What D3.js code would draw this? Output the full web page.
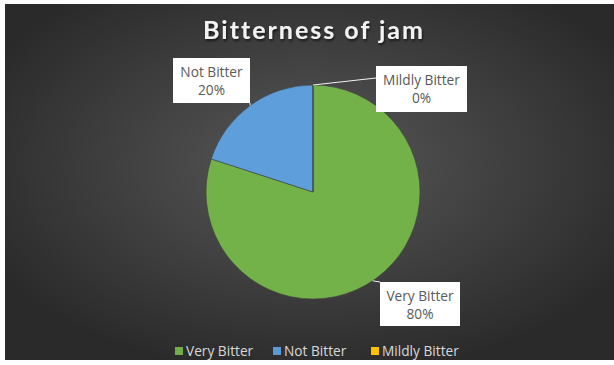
<!DOCTYPE html>
<html><head><meta charset="utf-8">
<script src="https://cdn.jsdelivr.net/npm/d3@7"></script>
<style>html,body{margin:0;padding:0;background:#fff;}svg{display:block;}</style>
</head><body>
<svg id="chart" width="614" height="365"></svg>
<script>
const categories = ["Very Bitter", "Not Bitter", "Mildly Bitter"];
const values = [80, 20, 0];
const labelTexts = ["80%", "20%", "0%"];
const colors = ["#70ad47", "#5b9bd5", "#ffc000"];
const title = "Bitterness of jam";

const W = 614, H = 365;
const svg = d3.select("#chart");
const defs = svg.append("defs");

const bg = defs.append("radialGradient").attr("id", "bg")
  .attr("cx", "50%").attr("cy", "45%").attr("r", "60%");
bg.append("stop").attr("offset", "0%").attr("stop-color", "#585858");
bg.append("stop").attr("offset", "100%").attr("stop-color", "#2a2a2a");

const sh = defs.append("filter").attr("id", "tshadow").attr("x", "-10%").attr("y", "-20%").attr("width", "120%").attr("height", "150%");
sh.append("feDropShadow").attr("dx", 1).attr("dy", 2).attr("stdDeviation", 1.2).attr("flood-color", "#000").attr("flood-opacity", 0.6);

colors.forEach((c, i) => {
  const g = defs.append("radialGradient").attr("id", "sg" + i).attr("gradientUnits", "userSpaceOnUse")
    .attr("cx", 313).attr("cy", 192).attr("r", 107);
  g.append("stop").attr("offset", "0%").attr("stop-color", d3.color(c).darker(0.15));
  g.append("stop").attr("offset", "100%").attr("stop-color", d3.color(c).brighter(0.08));
});

svg.append("rect").attr("x", 5).attr("y", 4).attr("width", W - 5).attr("height", 356).attr("fill", "url(#bg)");

svg.append("text").attr("x", 314).attr("y", 39).attr("text-anchor", "middle")
  .attr("font-family", "Lato, 'Open Sans', sans-serif").attr("font-weight", "bold")
  .attr("font-size", 25).attr("letter-spacing", 2).attr("fill", "#f2f2f2")
  .attr("filter", "url(#tshadow)").text(title);

const cx = 313, cy = 192, R = 107;
const pie = d3.pie().sort(null).value(d => d)(values);
const arc = d3.arc().innerRadius(0).outerRadius(R);
const g = svg.append("g").attr("transform", `translate(${cx},${cy})`);
g.selectAll("path").data(pie).enter().append("path")
  .attr("d", arc).attr("fill", (d, i) => `url(#sg${i})`)
  .attr("stroke", "#404040").attr("stroke-width", 0.6);

const boxes = [
  {x: 380, y: 282, w: 80, h: 44, lx: 380, ly: 282},
  {x: 173, y: 58, w: 77, h: 45, lx: 250, ly: 103},
  {x: 376, y: 66, w: 91, h: 46, lx: 376, ly: 78}
];
const font = "'Open Sans', 'Noto Sans', sans-serif";
pie.forEach((d, i) => {
  const b = boxes[i];
  const mid = (d.startAngle + d.endAngle) / 2;
  let ptx = cx + R * Math.sin(mid), pty = cy - R * Math.cos(mid);
  if (i === 0) { ptx = cx + R * Math.sin(2.55); pty = cy - R * Math.cos(2.55); }
  svg.append("line").attr("x1", ptx).attr("y1", pty).attr("x2", b.lx).attr("y2", b.ly)
    .attr("stroke", "#f2f2f2").attr("stroke-width", 1);
  svg.append("rect").attr("x", b.x).attr("y", b.y).attr("width", b.w).attr("height", b.h)
    .attr("fill", "#ffffff");
  const t = svg.append("text").attr("text-anchor", "middle").attr("font-family", font)
    .attr("font-size", 13.7).attr("fill", "#595959");
  t.append("tspan").attr("x", b.x + b.w / 2).attr("y", b.y + 19).text(categories[i]);
  t.append("tspan").attr("x", b.x + b.w / 2).attr("y", b.y + 37).text(labelTexts[i]);
});

const legendX = [175, 273, 371];
const lg = svg.append("g");
categories.forEach((c, i) => {
  lg.append("rect").attr("x", legendX[i]).attr("y", 347).attr("width", 8).attr("height", 8).attr("fill", colors[i]);
  lg.append("text").attr("x", legendX[i] + 11).attr("y", 356).attr("font-family", font)
    .attr("font-size", 13.7).attr("fill", "#d9d9d9").text(c);
});
</script>
</body></html>
